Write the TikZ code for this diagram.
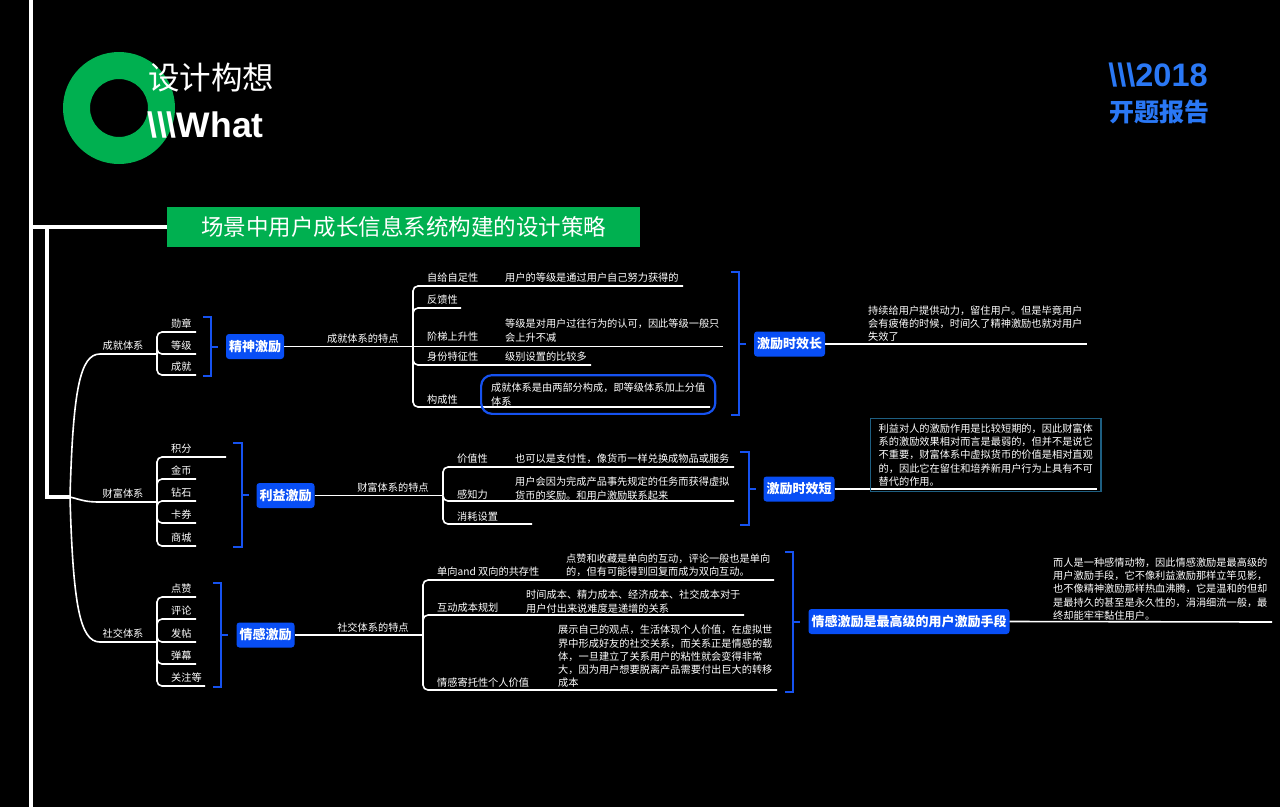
\documentclass[tikz,border=0pt]{standalone}
\usepackage{fontspec}
\setmainfont{Noto Sans CJK SC}
\newfontfamily\latinbold{Liberation Sans}
\usepackage{tikz}

\definecolor{ringgreen}{RGB}{0,176,80}
\definecolor{hubblue}{RGB}{8,78,245}
\definecolor{braceblue}{RGB}{22,82,240}
\definecolor{yearblue}{RGB}{42,120,245}
\definecolor{noteedge}{RGB}{30,95,130}

\newcommand{\smalltxt}{\fontsize{10.2}{13.3}\selectfont}
\newcommand{\hubtxt}{\bfseries\fontsize{13}{13}\selectfont}

\tikzset{
  wire/.style={white, line width=1.6pt},
  trunk/.style={white, line width=3.5pt},
  bracket/.style={braceblue, line width=2.2pt},
  lbl/.style={text=white, font=\smalltxt, inner sep=0pt, anchor=west, align=left},
  hub/.style={fill=hubblue, rounded corners=3pt, text=white, font=\hubtxt,
    minimum height=25pt, inner xsep=3pt, inner ysep=0pt},
}

\begin{document}
\begin{tikzpicture}[x=1pt, y=-1pt]
\useasboundingbox (0,0) rectangle (1280,807);
\fill[black] (0,0) rectangle (1280,807);

% Header: green ring and page titles
\fill[ringgreen, even odd rule] (119,108) circle (56pt) (119,108) circle (29pt);
\node[text=white, font=\fontsize{31.5}{31.5}\selectfont, anchor=west, inner sep=0pt] (sheji) at (148,78) {设计构想};
\node[text=white, font=\latinbold\bfseries\fontsize{35.5}{35.5}\selectfont, anchor=west, inner sep=0pt] (what) at (147,125) {\textbackslash\textbackslash\textbackslash What};
\node[text=yearblue, font=\latinbold\bfseries\fontsize{32.5}{32.5}\selectfont, inner sep=0pt] (year) at (1158,75) {\textbackslash\textbackslash\textbackslash 2018};
\node[text=yearblue, font=\bfseries\fontsize{25}{25}\selectfont, inner sep=0pt] (kaiti) at (1159,112) {开题报告};

% Left frame and the title bar
\draw[trunk] (31,0) -- (31,807);
\node[fill=ringgreen, text=white, font=\fontsize{22.5}{22.5}\selectfont, minimum width=473pt, minimum height=40pt, inner sep=0pt] (title) at (403.5,227) {场景中用户成长信息系统构建的设计策略};
\draw[trunk] (31,227) -- (title.west);
\coordinate (root) at (70,497);
\draw[trunk, line join=miter] (47,227) -- (47,497) -- (root);

% ---------- 成就体系 ----------
\coordinate (sA) at (157,354);
\draw[wire] (root) .. controls (73,390) and (80,354) .. (100,354) -- (sA);
\node[lbl, anchor=center] (cjtx) at (123,346) {成就体系};
\foreach \t/\y [count=\i] in {勋章/332, 等级/354, 成就/375} {
  \draw[wire, rounded corners=5pt] (sA) |- (196,\y);
  \node[lbl] (a\i) at (171,\y-8) {\t};
}
\draw[bracket] (203,317) -- (211,317) -- (211,376) -- (203,376);
\draw[bracket] (211,347) -- (218,347);
\node[hub] (jingshen) at (255,346.5) {精神激励};

\coordinate (fA) at (413,346.5);
\draw[wire] (jingshen.east) -- (fA) node[lbl, pos=0.61, above=2pt] (cjtd) {成就体系的特点};
\foreach \y/\e in {286/683, 308/461, 365/591, 407/710}
  \draw[wire, rounded corners=5pt] (fA) |- (\e,\y);
\draw[wire] (fA) -- (723,346.5);
\foreach \t/\y [count=\i] in {自给自足性/278, 反馈性/300, 阶梯上升性/337, 身份特征性/357, 构成性/400}
  \node[lbl] (fa\i) at (427,\y) {\t};

\node[lbl] (da1) at (505,278) {用户的等级是通过用户自己努力获得的};
\node[lbl] (da3) at (505,330.5) {等级是对用户过往行为的认可，因此等级一般只\\会上升不减};
\node[lbl] (da4) at (505,357) {级别设置的比较多};
\node[lbl, draw=braceblue, line width=2.2pt, rounded corners=11pt, inner xsep=10pt, inner ysep=8pt] (da5) at (480,394.5) {成就体系是由两部分构成，即等级体系加上分值\\体系};

\draw[bracket] (731,272) -- (739,272) -- (739,415) -- (731,415);
\draw[bracket] (739,344) -- (746,344);
\node[hub] (changxiao) at (789.5,344) {激励时效长};
\coordinate (endA) at (1087,344);
\draw[wire] (changxiao.east) -- (endA);
\node[lbl] (noteA) at (868,323.5) {持续给用户提供动力，留住用户。但是毕竟用户\\会有疲倦的时候，时间久了精神激励也就对用户\\失效了};

% ---------- 财富体系 ----------
\coordinate (sB) at (157,502);
\draw[wire] (root) .. controls (82,500) and (85,502) .. (100,502) -- (sB);
\node[lbl, anchor=center] (cftx) at (123,494) {财富体系};
\foreach \t/\y/\e [count=\i] in {积分/457/226, 金币/479/196, 钻石/501/196, 卡券/523/196, 商城/546/196} {
  \draw[wire, rounded corners=5pt] (sB) |- (\e,\y);
  \node[lbl] (b\i) at (171,\y-8) {\t};
}
\draw[bracket] (233,443) -- (242,443) -- (242,547) -- (233,547);
\draw[bracket] (242,495) -- (249,495);
\node[hub] (liyi) at (285.5,495.5) {利益激励};

\coordinate (fB) at (443,495.5);
\draw[wire] (liyi.east) -- (fB) node[lbl, pos=0.61, above=2pt] (cftd) {财富体系的特点};
\foreach \y/\e in {467/734, 501/734, 524/532}
  \draw[wire, rounded corners=5pt] (fB) |- (\e,\y);
\foreach \t/\y [count=\i] in {价值性/459, 感知力/495, 消耗设置/517}
  \node[lbl] (fb\i) at (457,\y) {\t};

\node[lbl] (db1) at (515,459) {也可以是支付性，像货币一样兑换成物品或服务};
\node[lbl] (db2) at (515,488.5) {用户会因为完成产品事先规定的任务而获得虚拟\\货币的奖励。和用户激励联系起来};

\draw[bracket] (740,452) -- (749,452) -- (749,525) -- (740,525);
\draw[bracket] (749,489) -- (756,489);
\node[hub] (duanxiao) at (799,489) {激励时效短};
\coordinate (endB) at (1097,489);
\draw[wire] (duanxiao.east) -- (endB);
\node[lbl, draw=noteedge, line width=1.3pt, inner xsep=8pt, inner ysep=5pt] (noteB) at (870,455) {利益对人的激励作用是比较短期的，因此财富体\\系的激励效果相对而言是最弱的，但并不是说它\\不重要，财富体系中虚拟货币的价值是相对直观\\的，因此它在留住和培养新用户行为上具有不可\\替代的作用。};

% ---------- 社交体系 ----------
\coordinate (sC) at (157,642);
\draw[wire] (root) .. controls (73,605) and (80,642) .. (100,642) -- (sC);
\node[lbl, anchor=center] (sjtx) at (123,634) {社交体系};
\foreach \t/\y/\e [count=\i] in {点赞/597/196, 评论/619/196, 发帖/642/196, 弹幕/664/196, 关注等/686/205} {
  \draw[wire, rounded corners=5pt] (sC) |- (\e,\y);
  \node[lbl] (c\i) at (171,\y-8) {\t};
}
\draw[bracket] (213,583) -- (221,583) -- (221,687) -- (213,687);
\draw[bracket] (221,635) -- (228,635);
\node[hub] (qinggan) at (265.5,635) {情感激励};

\coordinate (fC) at (423,635);
\draw[wire] (qinggan.east) -- (fC) node[lbl, pos=0.61, above=2pt] (sjtd) {社交体系的特点};
\foreach \y/\e in {580/774, 615/744, 690/777}
  \draw[wire, rounded corners=5pt] (fC) |- (\e,\y);
\foreach \t/\y [count=\i] in {单向and 双向的共存性/572, 互动成本规划/608, 情感寄托性个人价值/683}
  \node[lbl] (fc\i) at (437,\y) {\t};

\node[lbl] (dc1) at (566,565) {点赞和收藏是单向的互动，评论一般也是单向\\的，但有可能得到回复而成为双向互动。};
\node[lbl] (dc2) at (526,601.5) {时间成本、精力成本、经济成本、社交成本对于\\用户付出来说难度是递增的关系};
\node[lbl] (dc3) at (558,656.5) {展示自己的观点，生活体现个人价值，在虚拟世\\界中形成好友的社交关系，而关系正是情感的载\\体，一旦建立了关系用户的粘性就会变得非常\\大，因为用户想要脱离产品需要付出巨大的转移\\成本};

\draw[bracket] (785,552) -- (793,552) -- (793,692) -- (785,692);
\draw[bracket] (793,622) -- (800,622);
\node[hub] (gaoji) at (909,621.5) {情感激励是最高级的用户激励手段};
\coordinate (endC) at (1272,622);
\draw[wire] (gaoji.east) -- (endC);
\node[lbl] (noteC) at (1053,589) {而人是一种感情动物，因此情感激励是最高级的\\用户激励手段，它不像利益激励那样立竿见影，\\也不像精神激励那样热血沸腾，它是温和的但却\\是最持久的甚至是永久性的，涓涓细流一般，最\\终却能牢牢黏住用户。};

\end{tikzpicture}
\end{document}
